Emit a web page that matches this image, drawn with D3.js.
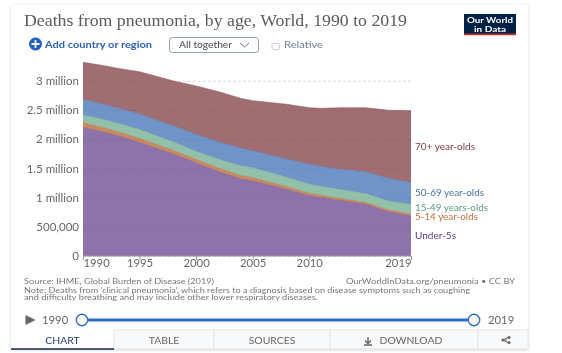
<!DOCTYPE html>
<html><head><meta charset="utf-8">
<script src="https://cdn.jsdelivr.net/npm/d3@7"></script>
<style>
html,body{margin:0;padding:0;background:#fff;overflow:hidden}
svg{display:block;font-family:Lato,"Open Sans",sans-serif;filter:blur(.4px)}
</style></head><body><div id="chart"></div>
<script>
const years = [1990,1992,1993,1995,1998,2000,2002,2004,2005,2008,2010,2011,2012,2013,2015,2017,2019];
const under5 = [2203,2111,2063,1943,1746,1592,1443,1318,1284,1142,1032,1002,971,942,885,758,680];
const age5to14 = [79,75,68,68,60,62,60,56,56,45,41,38,34,34,30,29,35];
const age15to49 = [132,142,146,154,146,137,154,166,171,161,154,154,154,154,149,154,166];
const age50to69 = [269,257,257,265,274,291,296,303,291,313,342,342,342,351,377,389,377];
const age70plus = [633,668,680,724,770,827,860,853,856,936,969,993,1032,1058,1096,1164,1228];
const seriesNames = ["Under-5s","5-14 year-olds","15-49 years-olds","50-69 year-olds","70+ year-olds"];
const seriesColors = ["#725096","#bb6d37","#78b092","#4b79ba","#884a4c"];
const labelColors = ["#5b3a8e","#c2703e","#5f9c7f","#4a6fae","#7f3b44"];
const labelY = [236.5,217,208,193.5,147];
const labelW = [41,63,73,69,60];
const yTicks = [0,500000,1000000,1500000,2000000,2500000,3000000];
const yTickLabels = ["0","500,000","1 million","1.5 million","2 million","2.5 million","3 million"];
const xTicks = [1990,1995,2000,2005,2010,2019];
const tabs = ["CHART","TABLE","SOURCES","DOWNLOAD"];

const W=562,H=353;
const svg=d3.select("#chart").append("svg").attr("width",W).attr("height",H);
const defs=svg.append("defs");
const f=defs.append("filter").attr("id","sh").attr("x","-5%").attr("y","-5%").attr("width","110%").attr("height","110%");
f.append("feDropShadow").attr("dx",0).attr("dy",1).attr("stdDeviation",1.5).attr("flood-color","#000").attr("flood-opacity",.18);

// card
svg.append("rect").attr("x",11).attr("y",5).attr("width",517).attr("height",344).attr("fill","#fff").attr("filter","url(#sh)");

// title
svg.append("text").attr("x",24).attr("y",26).attr("font-family","'Liberation Serif',serif").attr("font-size",16)
  .attr("fill","#5b5b5b").attr("textLength",383).attr("lengthAdjust","spacingAndGlyphs")
  .text("Deaths from pneumonia, by age, World, 1990 to 2019");

// logo
const logo=svg.append("g");
logo.append("rect").attr("x",464).attr("y",14).attr("width",52).attr("height",21).attr("fill","#002147");
logo.append("rect").attr("x",464).attr("y",33.5).attr("width",52).attr("height",1.7).attr("fill","#ce261e");
logo.append("text").attr("x",490).attr("y",22.8).attr("text-anchor","middle").attr("fill","#fff").attr("font-size",7.8).attr("font-weight",700).attr("textLength",46).attr("lengthAdjust","spacingAndGlyphs").text("Our World");
logo.append("text").attr("x",490).attr("y",31.8).attr("text-anchor","middle").attr("fill","#fff").attr("font-size",7.8).attr("font-weight",700).attr("textLength",32).attr("lengthAdjust","spacingAndGlyphs").text("in Data");

// controls
svg.append("circle").attr("cx",35.5).attr("cy",44).attr("r",6.5).attr("fill","#1d5fc9");
svg.append("path").attr("d","M31.5 44H39.5M35.5 40V48").attr("stroke","#fff").attr("stroke-width",1.8);
svg.append("text").attr("x",45).attr("y",48).attr("font-size",10.2).attr("font-weight",700).attr("fill","#2a62c0").attr("textLength",107).attr("lengthAdjust","spacingAndGlyphs").text("Add country or region");
svg.append("rect").attr("x",169.5).attr("y",37.5).attr("width",89).attr("height",15).attr("rx",3).attr("fill","#fff").attr("stroke","#93a0b2");
svg.append("text").attr("x",179).attr("y",48).attr("font-size",10).attr("font-weight",500).attr("fill","#555").attr("textLength",53).attr("lengthAdjust","spacingAndGlyphs").text("All together");
svg.append("path").attr("d","M240 43L244.5 47L249 43").attr("fill","none").attr("stroke","#6a7486").attr("stroke-width",1);
svg.append("rect").attr("x",272).attr("y",43.5).attr("width",7.5).attr("height",6).attr("rx",1).attr("fill","#fff").attr("stroke","#ccd");
svg.append("text").attr("x",284).attr("y",48).attr("font-size",10).attr("fill","#6e7f99").attr("textLength",39).attr("lengthAdjust","spacingAndGlyphs").text("Relative");

// chart
const x=d3.scaleLinear().domain([1990,2019]).range([83,411]);
const y=d3.scaleLinear().domain([0,3000000]).range([256,80.7]);
const rows=years.map((yr,i)=>({year:yr,s0:under5[i]*1000,s1:age5to14[i]*1000,s2:age15to49[i]*1000,s3:age50to69[i]*1000,s4:age70plus[i]*1000}));
const stack=d3.stack().keys(["s0","s1","s2","s3","s4"])(rows);
const gridY=svg.append("g").attr("transform","translate(83,0)")
  .call(d3.axisLeft(y).tickValues(yTicks).tickSize(-328).tickPadding(4).tickFormat((d,i)=>yTickLabels[i]));
gridY.select(".domain").remove();
gridY.selectAll(".tick line").attr("stroke","#d8d8d8").attr("stroke-dasharray","3 2");
gridY.selectAll(".tick text").attr("font-size",11.5).attr("fill","#666").attr("font-family","Lato");
const area=d3.area().x(d=>x(d.data.year)).y0(d=>y(d[0])).y1(d=>y(d[1]));
const line=d3.line().x(d=>x(d.data.year)).y(d=>y(d[1]));
svg.append("g").selectAll("path").data(stack).join("path").attr("d",area).attr("fill",(d,i)=>seriesColors[i]).attr("fill-opacity",.8);
svg.append("g").selectAll("path").data(stack).join("path").attr("d",line).attr("fill","none").attr("stroke",(d,i)=>seriesColors[i]).attr("stroke-width",.5);

const ax=svg.append("g").attr("transform","translate(0,256)")
  .call(d3.axisBottom(x).tickValues(xTicks).tickSize(4).tickPadding(3).tickFormat(d3.format("d")));
ax.select(".domain").attr("stroke","#999").attr("d","M83 0H411");
ax.selectAll(".tick line").attr("stroke","#999");
ax.selectAll(".tick text").attr("font-size",11.3).attr("fill","#666").attr("font-family","Lato")
  .attr("text-anchor",d=>d===1990?"start":d===2019?"end":"middle").attr("y",3).attr("dy","0.71em");

// series labels
svg.append("g").selectAll("text").data(seriesNames).join("text")
  .attr("x",415).attr("y",(d,i)=>labelY[i]).attr("dy","0.32em").attr("font-size",8.6)
  .attr("textLength",(d,i)=>labelW[i]).attr("lengthAdjust","spacingAndGlyphs")
  .attr("fill",(d,i)=>labelColors[i]).text(d=>d);

// footer
const foot=svg.append("g").attr("font-size",7.4).attr("fill","#777");
const fit=s=>s.attr("lengthAdjust","spacingAndGlyphs");
fit(foot.append("text").attr("x",24).attr("y",284).attr("font-size",8).attr("textLength",190)).text("Source: IHME, Global Burden of Disease (2019)");
fit(foot.append("text").attr("x",515).attr("y",284).attr("font-size",8).attr("text-anchor","end").attr("textLength",169)).text("OurWorldInData.org/pneumonia • CC BY");
fit(foot.append("text").attr("x",24).attr("y",292.6).attr("textLength",446)).text("Note: Deaths from 'clinical pneumonia', which refers to a diagnosis based on disease symptoms such as coughing");
fit(foot.append("text").attr("x",24).attr("y",300.2).attr("textLength",294)).text("and difficulty breathing and may include other lower respiratory diseases.");

// timeline
svg.append("path").attr("d","M25.5 315L35.5 320L25.5 325Z").attr("fill","#666");
svg.append("text").attr("x",42).attr("y",324).attr("font-size",11.3).attr("fill","#666").text("1990");
svg.append("text").attr("x",488).attr("y",324).attr("font-size",11.3).attr("fill","#666").text("2019");
svg.append("line").attr("x1",82).attr("x2",474).attr("y1",320).attr("y2",320).attr("stroke","#2d6ccf").attr("stroke-width",3);
svg.selectAll(".h").data([82,474]).join("circle").attr("cx",d=>d).attr("cy",320).attr("r",5.7).attr("fill","#fff").attr("stroke","#2d6ccf").attr("stroke-width",1.4);

// tabs
const tabEdges=[11,114,214,330,478,528];
svg.append("g").selectAll("rect").data(tabEdges.slice(0,-1)).join("rect")
  .attr("x",d=>d).attr("y",330).attr("width",(d,i)=>tabEdges[i+1]-d).attr("height",19)
  .attr("fill",(d,i)=>i?"#f8f9fa":"#fff").attr("stroke",(d,i)=>i?"#e4e6e8":"none");
svg.append("line").attr("x1",11).attr("x2",114).attr("y1",349).attr("y2",349).attr("stroke","#15243f").attr("stroke-width",1.4);
svg.append("g").selectAll("text").data(tabs).join("text")
  .attr("x",(d,i)=>[62.5,164,272,411][i]).attr("y",344).attr("text-anchor","middle").attr("font-size",10.4)
  .attr("fill",(d,i)=>i?"#666":"#1d3d63").text(d=>d);
svg.append("path").attr("d","M368 337V343M365 340.5L368 343.5L371 340.5M364 345H372").attr("fill","none").attr("stroke","#666").attr("stroke-width",1.4);
svg.append("path").attr("d","M507 340L503 340M503 340L509 337M503 340L509 343").attr("stroke","#666").attr("stroke-width",1);
svg.selectAll(".sh").data([[503,340],[509,337.5],[509,342.5]]).join("circle").attr("cx",d=>d[0]).attr("cy",d=>d[1]).attr("r",1.6).attr("fill","#666");
</script></body></html>
